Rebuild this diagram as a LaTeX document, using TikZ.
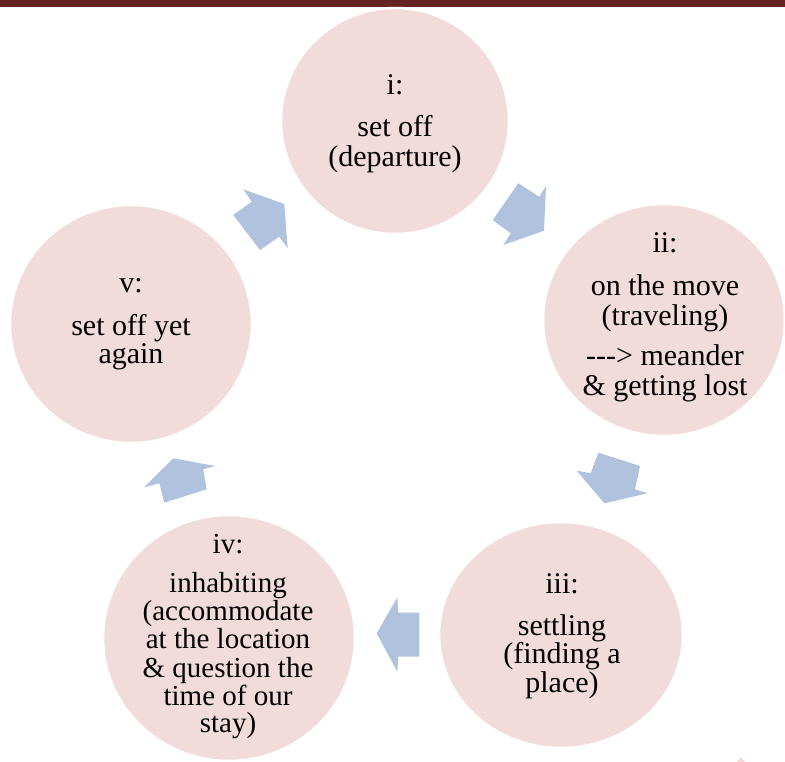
\documentclass[tikz,border=0pt]{standalone}
\usepackage{fontspec}
\setmainfont{Liberation Serif}
\usetikzlibrary{shapes.geometric}
\definecolor{barred}{HTML}{632423}
\definecolor{pinkfill}{HTML}{F2DBDB}
\definecolor{arrowfill}{HTML}{B1C2DE}
\tikzset{
  circ/.style={ellipse, fill=pinkfill, draw=white, line width=2.5pt, inner sep=0pt},
  txt/.style={anchor=base, inner sep=0pt, font=\fontsize{30}{30}\selectfont, text=black},
  txtsmall/.style={anchor=base, inner sep=0pt, font=\fontsize{29}{29}\selectfont, text=black},
  arr/.style={fill=arrowfill}
}
\begin{document}
\begin{tikzpicture}[x=1pt,y=-1pt]
\useasboundingbox (0,0) rectangle (785,762);
\begin{scope}
\clip (0,0) rectangle (785,762);
% top bar
\fill[barred] (0,0) rectangle (785,7);
% circles
\node[circ, minimum width=228pt, minimum height=226pt] (c1) at (395,121) {};
\node[circ, minimum width=242pt, minimum height=232pt] (c2) at (664,320) {};
\node[circ, minimum width=244pt, minimum height=226pt] (c3) at (561,635) {};
\node[circ, minimum width=252pt, minimum height=246pt] (c4) at (229,638) {};
\node[circ, minimum width=242pt, minimum height=238pt] (c5) at (131,324) {};
% arrows
\fill[arr] (243.3,189.3) -- (284.3,204) -- (287.7,248.3) -- (279.3,236.7) -- (260,250) -- (233.3,215) -- (251.7,201.7) -- cycle;
\fill[arr] (518.3,183.3) -- (539.3,196.7) -- (546,186) -- (544,230.7) -- (503.3,245) -- (510.7,233.3) -- (492.7,220) -- cycle;
\fill[arr] (598.3,452.7) -- (640,466) -- (635,489.3) -- (647.3,493.3) -- (604.3,503.3) -- (576.7,470.7) -- (590.7,473.3) -- cycle;
\fill[arr] (419.3,612.7) -- (398.3,612.7) -- (397.3,597.3) -- (376.7,633.3) -- (397.3,671.7) -- (398.3,656.7) -- (419.3,656.7) -- cycle;
\fill[arr] (144,487.3) -- (173.3,458.3) -- (215,466) -- (203.3,469.3) -- (206.7,489.3) -- (164.3,502.7) -- (159.3,483.3) -- cycle;
% small blip
\fill[pinkfill] (737,762) -- (741,757) -- (745,762) -- cycle;
\end{scope}
% texts circle i
\node[txt] (t1a) at (395,95) {i:};
\node[txt] (t1b) at (395,137) {set off};
\node[txt] (t1c) at (395,167) {(departure)};
% circle ii
\node[txt] (t2a) at (665,253) {ii:};
\node[txt] (t2b) at (665,296) {on the move};
\node[txt] (t2c) at (665,326) {(traveling)};
\node[txt] (t2d) at (665,365) {{-}{-}{-}> meander};
\node[txt] (t2e) at (665,395) {\& getting lost};
% circle iii
\node[txt] (t3a) at (562,593) {iii:};
\node[txt] (t3b) at (562,635) {settling};
\node[txt] (t3c) at (562,663) {(finding a};
\node[txt] (t3d) at (562,692) {place)};
% circle iv
\node[txtsmall] (t4a) at (228,553) {iv:};
\node[txtsmall] (t4b) at (228,592) {inhabiting};
\node[txtsmall] (t4c) at (228,620) {(accommodate};
\node[txtsmall] (t4d) at (228,648) {at the location};
\node[txtsmall] (t4e) at (228,677) {\& question the};
\node[txtsmall] (t4f) at (228,705) {time of our};
\node[txtsmall] (t4g) at (228,732) {stay)};
% circle v
\node[txt] (t5a) at (131,293) {v:};
\node[txt] (t5b) at (131,335) {set off yet};
\node[txt] (t5c) at (131,363) {again};
\end{tikzpicture}
\end{document}
